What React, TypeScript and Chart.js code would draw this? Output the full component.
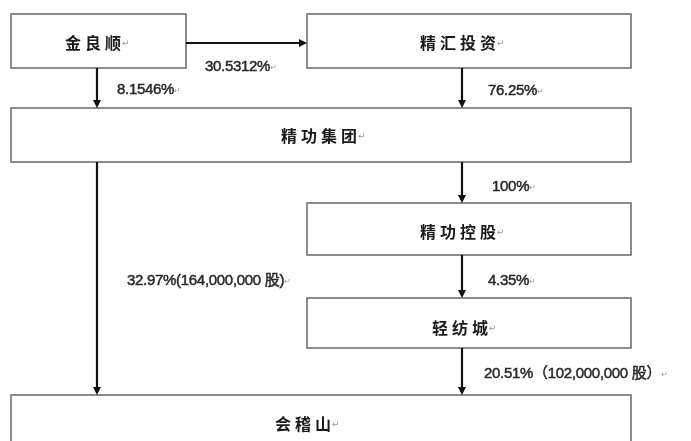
import React, { useEffect, useRef } from "react";
import { Chart, registerables } from "chart.js";

Chart.register(...registerables);

// ---- data ----
const nodeNames = ["金良顺", "精汇投资", "精功集团", "精功控股", "轻纺城", "会稽山"];
const edgeFrom = [0, 0, 1, 2, 2, 3, 4];
const edgeTo = [1, 2, 2, 3, 5, 4, 5];
const edgeLabels = [
  "30.5312%",
  "8.1546%",
  "76.25%",
  "100%",
  "32.97%(164,000,000 股)",
  "4.35%",
  "20.51%（102,000,000 股）",
];

// ---- layout (value space 0..691 x 0..441) ----
const nodeRects = [
  [11, 14, 186, 68],
  [307, 14, 631, 68],
  [11, 108, 631, 162],
  [307, 203, 631, 255],
  [307, 298, 631, 348],
  [11, 395, 631, 470],
];
const nodeTextPos = [
  [95, 43],
  [460, 43],
  [321, 136],
  [460, 232],
  [462, 328],
  [305, 424],
];
// arrow path: [x1,y1,x2,y2], label anchor [x,y] (left aligned)
const edgePaths = [
  [186, 43, 307, 43],
  [97, 68, 97, 108],
  [462, 68, 462, 108],
  [462, 162, 462, 203],
  [97, 162, 97, 395],
  [462, 255, 462, 298],
  [462, 348, 462, 395],
];
const edgeLabelPos = [
  [205, 67],
  [117, 90],
  [488, 91],
  [492, 187],
  [127, 281],
  [488, 281],
  [484, 374],
];

const diagramPlugin = {
  id: "diagram",
  afterDraw(chart: any) {
    const ctx = chart.ctx as CanvasRenderingContext2D;
    const xs = chart.scales.x;
    const ys = chart.scales.y;
    const px = (v: number) => xs.getPixelForValue(v);
    const py = (v: number) => ys.getPixelForValue(v);
    ctx.save();
    // boxes
    ctx.strokeStyle = "#707070";
    ctx.lineWidth = 1.6;
    nodeRects.forEach((r) => {
      ctx.strokeRect(px(r[0]), py(r[1]), px(r[2]) - px(r[0]), py(r[3]) - py(r[1]));
    });
    // node text
    ctx.textBaseline = "middle";
    nodeNames.forEach((n, i) => {
      const [tx, ty] = nodeTextPos[i];
      ctx.font = "bold 16px 'Noto Sans CJK SC'";
      (ctx as any).letterSpacing = "4px";
      ctx.fillStyle = "#1a1a1a";
      const w = ctx.measureText(n).width;
      ctx.textAlign = "left";
      const x0 = px(tx) - w / 2;
      ctx.fillText(n, x0, py(ty));
      (ctx as any).letterSpacing = "0px";
      ctx.font = "9px 'DejaVu Sans'";
      ctx.fillStyle = "#999";
      ctx.fillText("↵", x0 + w - 3, py(ty) + 1);
    });
    // arrows
    ctx.strokeStyle = "#111";
    ctx.fillStyle = "#111";
    ctx.lineWidth = 2.2;
    edgePaths.forEach((p) => {
      const x1 = px(p[0]), y1 = py(p[1]), x2 = px(p[2]), y2 = py(p[3]);
      const ang = Math.atan2(y2 - y1, x2 - x1);
      const hl = 8, hw = 4;
      ctx.beginPath();
      ctx.moveTo(x1, y1);
      ctx.lineTo(x2 - Math.cos(ang) * hl, y2 - Math.sin(ang) * hl);
      ctx.stroke();
      ctx.beginPath();
      ctx.moveTo(x2, y2);
      ctx.lineTo(x2 - Math.cos(ang) * hl - Math.sin(ang) * hw, y2 - Math.sin(ang) * hl + Math.cos(ang) * hw);
      ctx.lineTo(x2 - Math.cos(ang) * hl + Math.sin(ang) * hw, y2 - Math.sin(ang) * hl - Math.cos(ang) * hw);
      ctx.closePath();
      ctx.fill();
    });
    // edge labels
    edgeLabels.forEach((t, i) => {
      const [lx, ly] = edgeLabelPos[i];
      ctx.font = "15px 'Liberation Sans', 'Noto Sans CJK SC'";
      (ctx as any).letterSpacing = "-0.3px";
      ctx.fillStyle = "#2a2a2a";
      ctx.strokeStyle = "#2a2a2a";
      ctx.lineWidth = 0.5;
      ctx.textAlign = "left";
      ctx.fillText(t, px(lx), py(ly));
      ctx.strokeText(t, px(lx), py(ly));
      const w = ctx.measureText(t).width;
      (ctx as any).letterSpacing = "0px";
      ctx.font = "8px 'DejaVu Sans'";
      ctx.fillStyle = "#999";
      ctx.fillText("↵", px(lx) + w, py(ly) + 1);
    });
    ctx.restore();
  },
};

export default function App() {
  const ref = useRef<HTMLCanvasElement | null>(null);
  useEffect(() => {
    if (!ref.current) return;
    const chart = new Chart(ref.current, {
      type: "scatter",
      data: { datasets: [{ data: nodeNames.map(() => null as any), pointRadius: 0 }] },
      options: {
        animation: false,
        responsive: false,
        layout: { padding: 0, autoPadding: false },
        plugins: { legend: { display: false }, tooltip: { enabled: false } },
        scales: {
          x: { type: "linear", min: 0, max: 691, display: false },
          y: { type: "linear", min: 0, max: 441, reverse: true, display: false },
        },
      },
      plugins: [diagramPlugin],
    });
    return () => chart.destroy();
  }, []);
  return (
    <div style={{ position: "fixed", left: 0, top: 0, width: 691, height: 441, background: "#fff" }}>
      <canvas ref={ref} width={691} height={441} style={{ width: 691, height: 441 }} />
    </div>
  );
}
